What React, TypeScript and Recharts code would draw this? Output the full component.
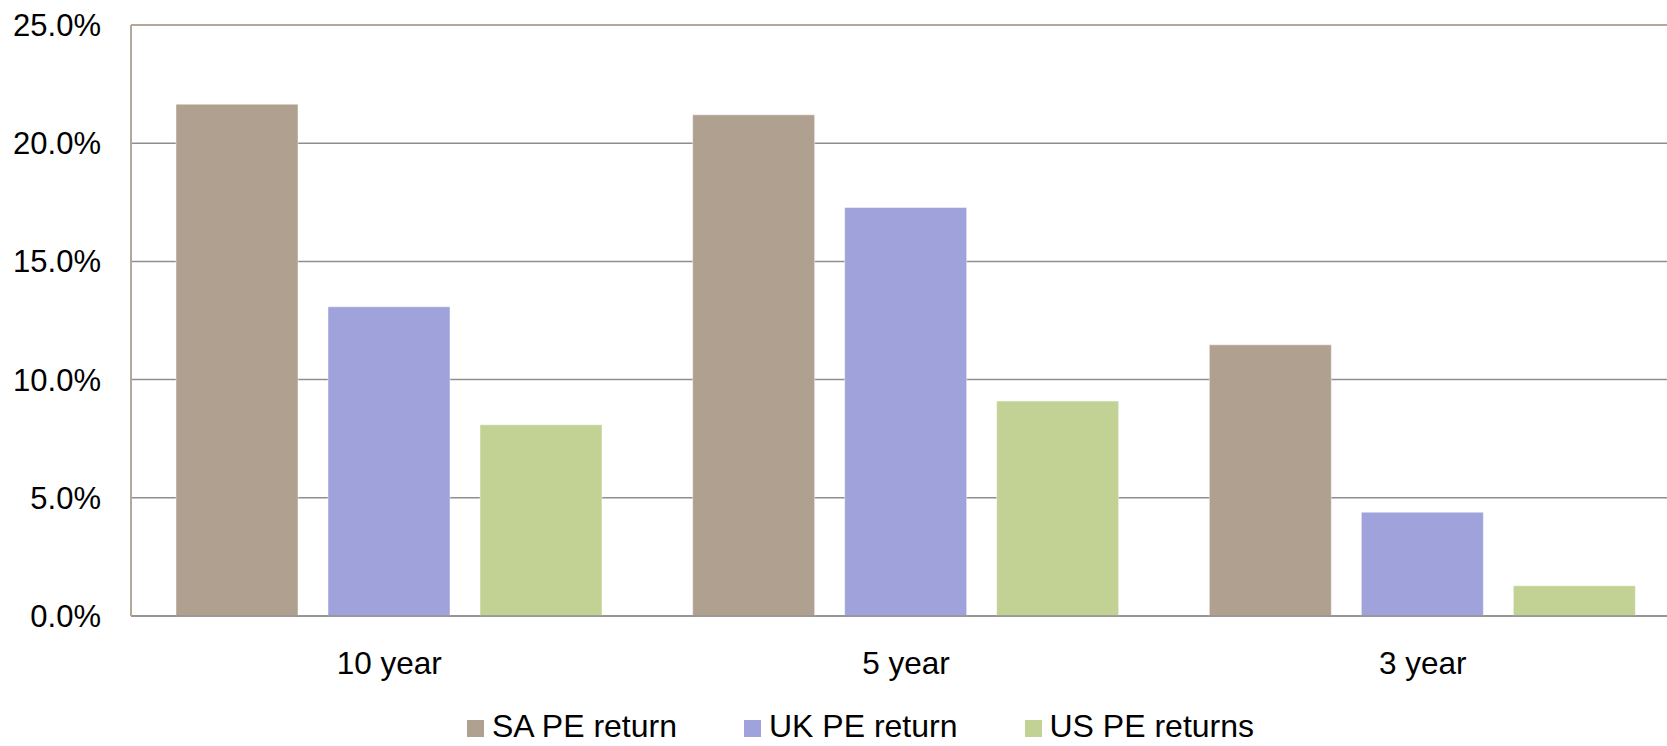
import React from "react";
import {
  BarChart,
  Bar,
  XAxis,
  YAxis,
  CartesianGrid,
  ReferenceLine,
  Legend,
} from "recharts";

// Annualised private equity returns by horizon
const periods = ["10 year", "5 year", "3 year"];
const saReturns = [21.65, 21.2, 11.47];
const ukReturns = [13.08, 17.28, 4.39];
const usReturns = [8.09, 9.09, 1.28];
const yTicks = [0, 5, 10, 15, 20, 25];

const series = [
  { key: "sa", name: "SA PE return", color: "#b0a08f" },
  { key: "uk", name: "UK PE return", color: "#9fa2db" },
  { key: "us", name: "US PE returns", color: "#c2d294" },
];

const FONT = "Arial, 'Liberation Sans', sans-serif";

const chartData = periods.map((p, i) => ({
  period: p,
  sa: saReturns[i],
  uk: ukReturns[i],
  us: usReturns[i],
}));

function LegendRow({ payload }: any) {
  return (
    <div style={{ display: "flex", alignItems: "center", fontFamily: FONT, fontSize: 32, lineHeight: "29px", color: "#000" }}>
      {(payload || []).map((item: any, i: number) => (
        <div key={item.value} style={{ display: "flex", alignItems: "center", marginLeft: i === 0 ? 0 : 67 }}>
          <span style={{ width: 17, height: 17, background: item.color, display: "inline-block", marginRight: 8, position: "relative", top: 2 }} />
          <span>{item.value}</span>
        </div>
      ))}
    </div>
  );
}

export default function App() {
  return (
    <div style={{ position: "absolute", left: 0, top: 0, width: 1667, height: 746, overflow: "hidden", background: "#fff" }}>
      <BarChart
        width={1700}
        height={746}
        data={chartData}
        margin={{ top: 25, right: 19, left: 0, bottom: 70 }}
        barCategoryGap={45}
        barGap={30}
      >
        <CartesianGrid vertical={false} stroke="#8e8e8e" strokeWidth={1.5} />
        <XAxis
          dataKey="period"
          height={60}
          tickSize={0}
          tickMargin={36}
          axisLine={{ stroke: "#8e8e8e", strokeWidth: 1.5 }}
          tick={{ fill: "#000", fontSize: 31.5, fontFamily: FONT }}
        />
        <YAxis
          width={131}
          domain={[0, 25]}
          ticks={yTicks}
          tickSize={0}
          tickMargin={30}
          tickFormatter={(v: number) => v.toFixed(1) + "%"}
          axisLine={{ stroke: "#b4a999", strokeWidth: 2 }}
          tick={{ fill: "#000", fontSize: 31, fontFamily: FONT }}
        />
        <ReferenceLine y={25} stroke="#b4a999" strokeWidth={2} />
        {series.map((s) => (
          <Bar
            key={s.key}
            dataKey={s.key}
            name={s.name}
            fill={s.color}
            stroke="#ffffff"
            strokeOpacity={0.45}
            strokeWidth={1}
            isAnimationActive={false}
          />
        ))}
        <Legend
          layout="horizontal"
          verticalAlign="middle"
          align="center"
          content={<LegendRow />}
          wrapperStyle={{ top: 712, left: 467, width: "auto" }}
        />
      </BarChart>
    </div>
  );
}
